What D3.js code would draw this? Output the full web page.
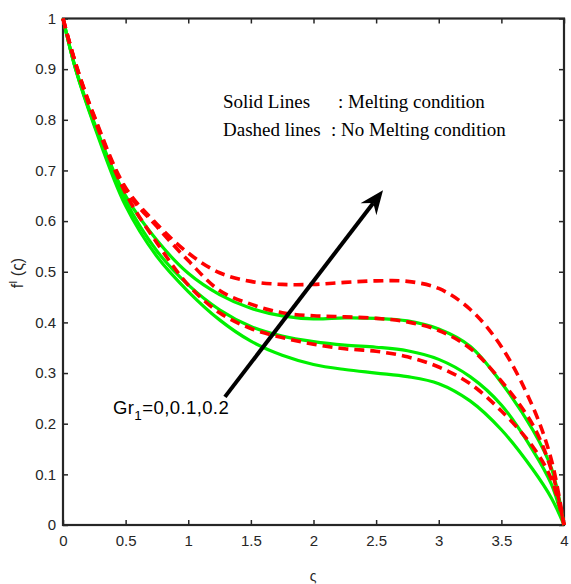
<!DOCTYPE html>
<html><head><meta charset="utf-8">
<script src="https://cdn.jsdelivr.net/npm/d3@7"></script>
<style>body{margin:0;background:#fff}svg{display:block}</style>
</head><body>
<script>
const xs = [0,0.1,0.25,0.5,0.75,1,1.25,1.5,1.75,2,2.25,2.5,2.75,3,3.25,3.5,3.75,3.9,4];
// Solid lines: melting condition, Gr1 = 0, 0.1, 0.2
const meltGr0   = [1,0.9,0.788,0.63,0.53,0.461,0.405,0.363,0.335,0.317,0.307,0.300,0.293,0.279,0.245,0.188,0.110,0.053,0];
const meltGr01  = [1,0.901,0.791,0.64,0.541,0.474,0.425,0.392,0.373,0.362,0.355,0.351,0.344,0.327,0.293,0.237,0.148,0.08,0];
const meltGr02  = [1,0.902,0.794,0.65,0.562,0.497,0.455,0.428,0.413,0.407,0.409,0.408,0.403,0.387,0.353,0.281,0.188,0.112,0];
// Dashed lines: no melting condition
const noMeltGr0  = [1,0.91,0.802,0.655,0.557,0.474,0.419,0.388,0.370,0.357,0.348,0.343,0.332,0.312,0.279,0.225,0.155,0.09,0];
const noMeltGr01 = [1,0.911,0.805,0.662,0.589,0.522,0.463,0.436,0.419,0.413,0.411,0.408,0.401,0.384,0.349,0.284,0.198,0.108,0];
const noMeltGr02 = [1,0.912,0.807,0.666,0.594,0.537,0.498,0.481,0.475,0.475,0.479,0.482,0.481,0.467,0.426,0.352,0.234,0.128,0];
const xTicks = [0,0.5,1,1.5,2,2.5,3,3.5,4];
const yTicks = [0,0.1,0.2,0.3,0.4,0.5,0.6,0.7,0.8,0.9,1];
const arrowFrom = [1.293, 0.253];
const arrowTo = [2.555, 0.661];

const W = 571, H = 584;
const svg = d3.select("body").append("svg").attr("width", W).attr("height", H);
const x = d3.scaleLinear().domain([0,4]).range([63,564]);
const y = d3.scaleLinear().domain([0,1]).range([525,18.5]);

const fmt = d => String(+d.toFixed(1));
const axCol = "#262626";
function styleAxis(g){
  g.select(".domain").remove();
  g.selectAll(".tick line").attr("stroke", axCol).attr("stroke-width", 1.5);
  g.selectAll(".tick text").attr("fill", axCol).style("font-family","'Liberation Sans', Arial, sans-serif").style("font-size","15px");
}
svg.append("g").attr("transform","translate(0,525)")
  .call(d3.axisBottom(x).tickValues(xTicks).tickFormat(fmt).tickSize(-5).tickPadding(10)).call(styleAxis);
svg.append("g").attr("transform","translate(0,18.5)")
  .call(d3.axisTop(x).tickValues(xTicks).tickFormat("").tickSize(-5)).call(styleAxis);
svg.append("g").attr("transform","translate(63,0)")
  .call(d3.axisLeft(y).tickValues(yTicks).tickFormat(fmt).tickSize(-5).tickPadding(7)).call(styleAxis);
svg.append("g").attr("transform","translate(564,0)")
  .call(d3.axisRight(y).tickValues(yTicks).tickFormat("").tickSize(-5)).call(styleAxis);
svg.append("rect").attr("x",63).attr("y",18.5).attr("width",501).attr("height",506.5)
  .attr("fill","none").attr("stroke",axCol).attr("stroke-width",2.2);

const line = d3.line().x((d,i)=>x(xs[i])).y(d=>y(d)).curve(d3.curveCatmullRom.alpha(0.5));
[meltGr0, meltGr01, meltGr02].forEach(s=>{
  svg.append("path").attr("d", line(s)).attr("fill","none").attr("stroke","#00f000").attr("stroke-width",3.2);
});
[noMeltGr0, noMeltGr01, noMeltGr02].forEach(s=>{
  svg.append("path").attr("d", line(s)).attr("fill","none").attr("stroke","#ff0000").attr("stroke-width",3.6).attr("stroke-dasharray","10,6");
});

// arrow
const x1 = x(arrowFrom[0]), y1 = y(arrowFrom[1]), x2 = x(arrowTo[0]), y2 = y(arrowTo[1]);
const ang = Math.atan2(y2-y1, x2-x1);
const L = 24, wdt = 10, notch = 16;
const ux = Math.cos(ang), uy = Math.sin(ang), px = -uy, py = ux;
svg.append("line").attr("x1",x1).attr("y1",y1).attr("x2",x2-ux*notch).attr("y2",y2-uy*notch)
  .attr("stroke","#000").attr("stroke-width",4);
const head = [[x2,y2],[x2-ux*L+px*wdt, y2-uy*L+py*wdt],[x2-ux*notch, y2-uy*notch],[x2-ux*L-px*wdt, y2-uy*L-py*wdt]];
svg.append("path").attr("d","M"+head.map(p=>p.join(",")).join("L")+"Z").attr("fill","#000");

// legend texts
const serif = "'Liberation Serif', 'Times New Roman', serif";
const lg = svg.append("g").style("font-family", serif).style("font-size","19px").attr("fill","#000");
lg.append("text").attr("x",223).attr("y",108).text("Solid Lines");
lg.append("text").attr("x",338).attr("y",108).text(": Melting condition");
lg.append("text").attr("x",223).attr("y",136).text("Dashed lines");
lg.append("text").attr("x",331).attr("y",136).text(": No Melting condition");

// Gr label
const gt = svg.append("text").attr("x",113).attr("y",414).attr("fill","#000")
  .style("font-family","'Liberation Sans', Arial, sans-serif").style("font-size","18.5px").style("letter-spacing","0.4px");
gt.append("tspan").text("Gr");
gt.append("tspan").attr("dy",6).style("font-size","13.5px").text("1");
gt.append("tspan").attr("dy",-6).text("=0,0.1,0.2");

// axis labels
svg.append("text").attr("x",313).attr("y",581).attr("text-anchor","middle").attr("fill",axCol)
  .style("font-family","'Liberation Sans', Arial, sans-serif").style("font-size","14px").text("ς");
const yl = svg.append("text").attr("transform","translate(23,273) rotate(-90)").attr("text-anchor","middle").attr("fill",axCol)
  .style("font-family","'Liberation Sans', Arial, sans-serif").style("font-size","16px");
yl.append("tspan").text("f");
yl.append("tspan").attr("dy",-6).style("font-size","11px").text("I");
yl.append("tspan").attr("dy",6).text("  (ς)");
</script>
</body></html>
